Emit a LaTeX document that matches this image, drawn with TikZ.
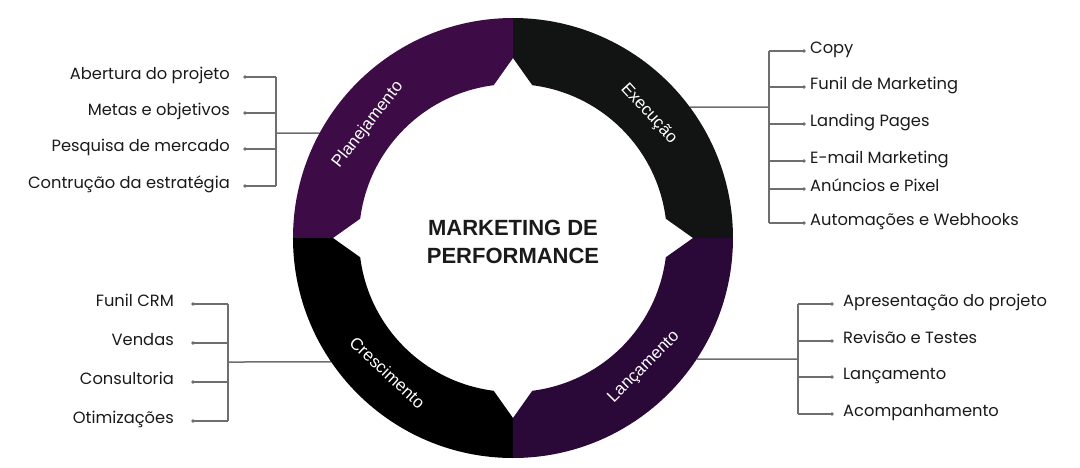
\documentclass[tikz,border=0pt]{standalone}
\usepackage{fontspec}
\setmainfont{Liberation Sans}
\newfontfamily\itemfont{Poppins}
\definecolor{planpurple}{HTML}{3D0C47}
\definecolor{execblack}{HTML}{121413}
\definecolor{crescblack}{HTML}{000000}
\definecolor{lancpurple}{HTML}{2A0838}
\definecolor{linegray}{HTML}{6E6E6E}
\definecolor{textblack}{HTML}{1A1A1A}
\tikzset{
	branch/.style={draw=linegray, line width=1.5pt},
	itemdot/.style={circle, fill=linegray, inner sep=0pt, minimum size=3.6pt},
	item/.style={font=\itemfont\fontsize{16.3}{19}\selectfont, text=textblack, inner sep=0pt},
	phase/.style={font=\fontsize{17}{20}\selectfont, text=white, inner sep=0pt}
}
\begin{document}
\begin{tikzpicture}[x=1pt,y=1pt]
	\useasboundingbox (-513,-229) rectangle (567,238);
	% radii
	\def\outerRadius {220};
	\def\innerRadius {154};
	\def\tipRadius {180};
	\def\notch {7.2};
	% item lists
	\def\planItems {Abertura do projeto/161, Metas e objetivos/125, Pesquisa de mercado/89, Contrução da estratégia/52};
	\def\execItems {Copy/187, Funil de Marketing/151, Landing Pages/114, E-mail Marketing/77, Anúncios e Pixel/49, Automações e Webhooks/15};
	\def\lancItems {Apresentação do projeto/-66, Revisão e Testes/-103, Lançamento/-139, Acompanhamento/-176};
	\def\crescItems {Funil CRM/-66, Vendas/-105, Consultoria/-144, Otimizações/-183};
	% planejamento list
	\foreach \label/\y [count=\index] in \planItems
	{
		\coordinate (plan_fork_\index) at (-237,\y);
		\node[itemdot] (plan_dot_\index) at (-268,\y) {};
		\node[item, anchor=mid east] (plan_item_\index) at ([xshift=-15pt]plan_dot_\index.center) {\label};
		\draw[branch] (plan_fork_\index) -- (plan_dot_\index.center);
	}
	\coordinate (plan_ring) at (151.5:\outerRadius);
	\coordinate (plan_hub) at (-237,105);
	\draw[branch] (plan_fork_1) -- (plan_fork_4);
	\draw[branch] (plan_hub) -- (plan_ring);
	% execucao list
	\foreach \label/\y [count=\index] in \execItems
	{
		\coordinate (exec_fork_\index) at (256,\y);
		\node[itemdot] (exec_dot_\index) at (291,\y) {};
		\node[item, anchor=mid west] (exec_item_\index) at ([xshift=6pt]exec_dot_\index.center) {\label};
		\draw[branch] (exec_fork_\index) -- (exec_dot_\index.center);
	}
	\coordinate (exec_ring) at (36.5:\outerRadius);
	\coordinate (exec_hub) at (256,131);
	\draw[branch] (exec_fork_1) -- (exec_fork_6);
	\draw[branch] (exec_hub) -- (exec_ring);
	% lancamento list
	\foreach \label/\y [count=\index] in \lancItems
	{
		\coordinate (lanc_fork_\index) at (285,\y);
		\node[itemdot] (lanc_dot_\index) at (319,\y) {};
		\node[item, anchor=mid west] (lanc_item_\index) at ([xshift=11pt]lanc_dot_\index.center) {\label};
		\draw[branch] (lanc_fork_\index) -- (lanc_dot_\index.center);
	}
	\coordinate (lanc_ring) at (-33.4:\outerRadius);
	\coordinate (lanc_hub) at (285,-121);
	\draw[branch] (lanc_fork_1) -- (lanc_fork_4);
	\draw[branch] (lanc_hub) -- (lanc_ring);
	% crescimento list
	\foreach \label/\y [count=\index] in \crescItems
	{
		\coordinate (cresc_fork_\index) at (-285,\y);
		\node[itemdot] (cresc_dot_\index) at (-320,\y) {};
		\node[item, anchor=mid east] (cresc_item_\index) at ([xshift=-19pt]cresc_dot_\index.center) {\label};
		\draw[branch] (cresc_fork_\index) -- (cresc_dot_\index.center);
	}
	\coordinate (cresc_ring) at (214.3:\outerRadius);
	\coordinate (cresc_hub) at (-285,-124);
	\draw[branch] (cresc_fork_1) -- (cresc_fork_4);
	\draw[branch] (cresc_hub) -- (cresc_ring);
	% ring segments with notches
	\foreach \start/\col in {0/execblack, 90/planpurple, 180/crescblack, 270/lancpurple}
	{
		\pgfmathsetmacro{\stop}{\start+90};
		\fill[\col] (\start:\outerRadius) arc[start angle=\start, end angle=\stop, radius=\outerRadius]
			-- (\stop:\tipRadius) -- (\stop-\notch:\innerRadius)
			arc[start angle=\stop-\notch, end angle=\start+\notch, radius=\innerRadius]
			-- (\start:\tipRadius) -- cycle;
	}
	% phase labels
	\node[phase, rotate=-47.5] (exec) at (42.5:184) {Execução};
	\node[phase, rotate=52] (plan) at (142:184) {Planejamento};
	\node[phase, rotate=-43] (cresc) at (227:184) {Crescimento};
	\node[phase, rotate=45] (lanc) at (-44.6:184) {Lançamento};
	% title
	\node[align=center, text=textblack, font=\bfseries\fontsize{22}{28}\selectfont] (title) at (0,-4) {MARKETING DE\\PERFORMANCE};
\end{tikzpicture}
\end{document}
